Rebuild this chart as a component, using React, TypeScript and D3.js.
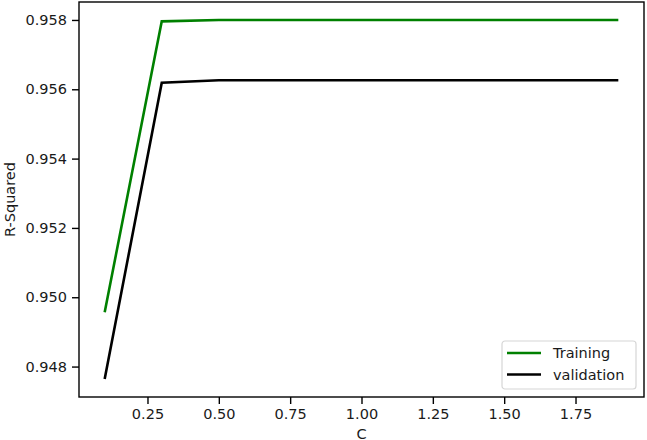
import React, { useEffect, useRef } from 'react';
import * as d3 from 'd3';

// C values and R-squared scores
const cValues = [0.1, 0.3, 0.5, 0.7, 0.9, 1.1, 1.3, 1.5, 1.7, 1.9];
const training = [0.94957, 0.95796, 0.958, 0.958, 0.958, 0.958, 0.958, 0.958, 0.958, 0.958];
const validation = [0.94764, 0.95619, 0.95626, 0.95626, 0.95626, 0.95626, 0.95626, 0.95626, 0.95626, 0.95626];
const xTicks = [0.25, 0.5, 0.75, 1.0, 1.25, 1.5, 1.75];
const yTicks = [0.948, 0.95, 0.952, 0.954, 0.956, 0.958];
const seriesNames = ['Training', 'validation'];
const seriesColors = ['green', 'black'];

function App() {
  const ref = useRef<SVGSVGElement>(null);

  useEffect(() => {
    const width = 647, height = 440;
    const margin = { top: 2, right: 3, bottom: 43, left: 79 };
    const w = width - margin.left - margin.right;
    const h = height - margin.top - margin.bottom;
    const font = 'DejaVu Sans, sans-serif';

    const svg = d3.select(ref.current);
    svg.selectAll('*').remove();
    const g = svg.append('g').attr('transform', `translate(${margin.left},${margin.top})`);

    // matplotlib style 5% margins around the data
    const xMin = d3.min(cValues)!, xMax = d3.max(cValues)!;
    const xPad = (xMax - xMin) * 0.05;
    const x = d3.scaleLinear().domain([xMin - xPad, xMax + xPad]).range([0, w]);

    const allY = training.concat(validation);
    const yMin = d3.min(allY)!, yMax = d3.max(allY)!;
    const yPad = (yMax - yMin) * 0.05;
    const y = d3.scaleLinear().domain([yMin - yPad, yMax + yPad]).range([h, 0]);

    const line = d3.line<number>()
      .x((d, i) => x(cValues[i]))
      .y(d => y(d));

    [training, validation].forEach((s, i) => {
      g.append('path')
        .datum(s)
        .attr('fill', 'none')
        .attr('stroke', seriesColors[i])
        .attr('stroke-width', 2.6)
        .attr('stroke-linejoin', 'miter')
        .attr('d', line);
    });

    // frame
    g.append('rect')
      .attr('width', w).attr('height', h)
      .attr('fill', 'none').attr('stroke', '#000').attr('stroke-width', 1.4);

    // x axis
    const xAxis = g.append('g')
      .attr('transform', `translate(0,${h})`)
      .call(d3.axisBottom(x).tickValues(xTicks).tickFormat(d3.format('.2f')).tickSize(7).tickPadding(4.5));
    xAxis.select('.domain').remove();

    // y axis
    const yAxis = g.append('g')
      .call(d3.axisLeft(y).tickValues(yTicks).tickFormat(d3.format('.3f')).tickSize(7).tickPadding(5));
    yAxis.select('.domain').remove();

    [xAxis, yAxis].forEach(a => {
      a.selectAll('line').attr('stroke', '#000').attr('stroke-width', 1.4);
      a.selectAll('text').attr('font-family', font).attr('font-size', 14.5).attr('fill', '#1a1a1a');
    });

    // axis titles
    svg.append('text')
      .attr('x', margin.left + w / 2).attr('y', 438.5)
      .attr('text-anchor', 'middle')
      .attr('font-family', font).attr('font-size', 14.5).attr('fill', '#1a1a1a')
      .text('C');

    svg.append('text')
      .attr('transform', `translate(15,${margin.top + h / 2}) rotate(-90)`)
      .attr('text-anchor', 'middle')
      .attr('font-family', font).attr('font-size', 14.5).attr('fill', '#1a1a1a')
      .text('R-Squared');

    // legend
    const lg = svg.append('g').attr('transform', 'translate(502,341)');
    lg.append('rect')
      .attr('width', 134).attr('height', 48).attr('rx', 3)
      .attr('fill', 'rgba(255,255,255,0.8)').attr('stroke', '#d6d6d6').attr('stroke-width', 1.2);
    seriesNames.forEach((name, i) => {
      const cy = 12 + i * 21.5;
      lg.append('line')
        .attr('x1', 5).attr('x2', 39).attr('y1', cy).attr('y2', cy)
        .attr('stroke', seriesColors[i]).attr('stroke-width', 2.6);
      lg.append('text')
        .attr('x', 51).attr('y', cy).attr('dy', '0.35em')
        .attr('font-family', font).attr('font-size', 14.5).attr('fill', '#1a1a1a')
        .text(name);
    });
  }, []);

  return (
    <div>
      <style>{'body{margin:0}'}</style>
      <svg ref={ref} width={647} height={440} style={{ display: 'block', background: '#fff' }} />
    </div>
  );
}

export default App;
